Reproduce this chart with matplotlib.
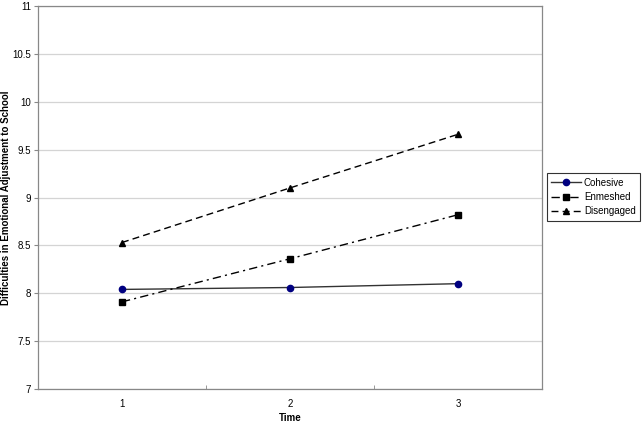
import matplotlib
matplotlib.use("Agg")
import matplotlib.pyplot as plt

plt.rcParams['font.family'] = ['Liberation Sans', 'DejaVu Sans']

time = [1, 2, 3]
cohesive = [8.04, 8.06, 8.10]
enmeshed = [7.91, 8.36, 8.82]
disengaged = [8.53, 9.10, 9.66]
yticks = [7, 7.5, 8, 8.5, 9, 9.5, 10, 10.5, 11]

fig = plt.figure(figsize=(6.42, 4.25), dpi=100)
ax = fig.add_axes([38/642, 36/425, 504/642, 383/425])

for y in yticks:
    ax.axhline(y, color='#d4d4d4', lw=0.9, zorder=0)

ax.plot(time, cohesive, color='#333333', lw=1.0, ls='-', marker='o', ms=4.5,
        mfc='#000080', mec='#000080', label='Cohesive')
ax.plot(time, enmeshed, color='black', lw=1.0, ls=(0, (6, 3, 1.5, 3)), marker='s', ms=4.5,
        mfc='black', mec='black', label='Enmeshed')
ax.plot(time, disengaged, color='black', lw=1.0, ls=(0, (5, 3)), marker='^', ms=4.5,
        mfc='black', mec='black', label='Disengaged')

ax.set_xlim(0.5, 3.5)
ax.set_ylim(7, 11)
ax.set_xticks(time)
ax.set_xticklabels([str(t) for t in time], fontsize=7)
ax.set_xticks([1.5, 2.5], minor=True)
ax.tick_params(axis='x', which='major', length=0, pad=7)
ax.tick_params(axis='x', which='minor', length=3, direction='in', color='#888888')
ax.set_yticks(yticks)
ax.set_yticklabels(['7', '7.5', '8', '8.5', '9', '9.5', '10', '10.5', '11'], fontsize=7)
ax.tick_params(axis='y', length=3, color='#888888', pad=2)

for s in ax.spines.values():
    s.set_color('#888888')
    s.set_linewidth(0.9)

ax.set_xlabel('Time', fontsize=7, fontweight='bold')
ax.set_ylabel('Difficulties in Emotional Adjustment to School', fontsize=7, fontweight='bold')
ax.xaxis.set_label_coords(0.5, (389 - 413) / 383)
ax.yaxis.set_label_coords((11 - 38) / 504, 0.5)

leg = fig.legend(loc='center left', bbox_to_anchor=(547/642, 1 - 197/425), fontsize=7,
                 frameon=True, fancybox=False, handlelength=3.0, borderpad=0.45,
                 labelspacing=0.45, handletextpad=0.35, borderaxespad=0)
leg.get_frame().set_edgecolor('black')
leg.get_frame().set_linewidth(0.8)

fig.savefig('out.png', dpi=100)
